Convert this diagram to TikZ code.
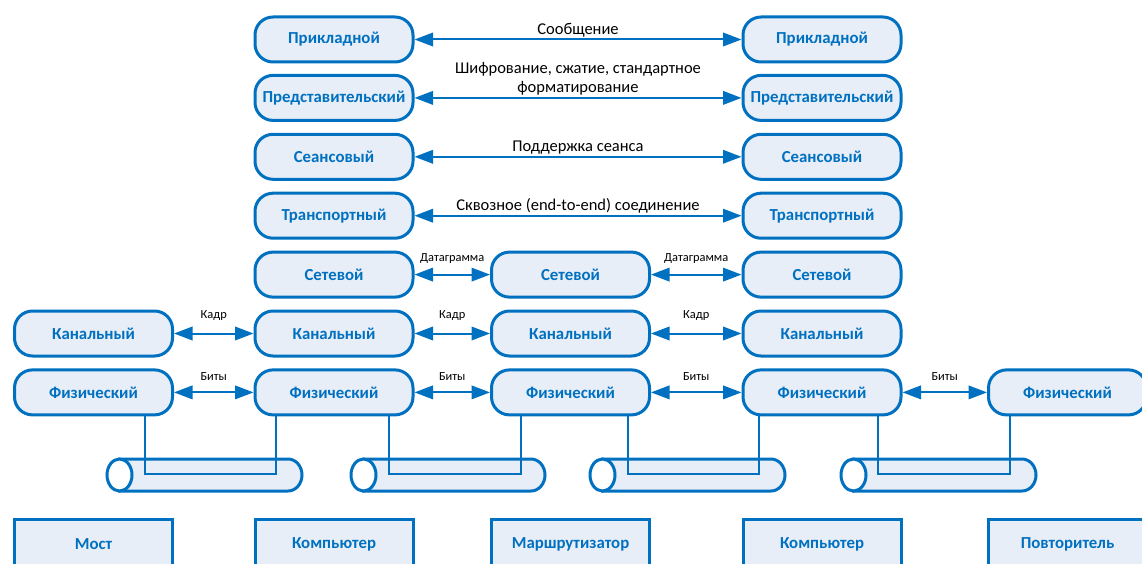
\documentclass[tikz,border=0pt]{standalone}
\usepackage{fontspec}
\setmainfont{Carlito}
\usetikzlibrary{arrows.meta}
\definecolor{osiblue}{RGB}{0,112,192}
\definecolor{osifill}{RGB}{232,238,247}
\begin{document}
\begin{tikzpicture}[x=1pt,y=-1pt,
  layer/.style={draw=osiblue, fill=osifill, line width=3pt, rounded corners=18pt,
    minimum width=158pt, minimum height=45pt, inner sep=0pt,
    font=\bfseries\fontsize{16.8}{20}\selectfont, text=osiblue},
  devbox/.style={draw=osiblue, fill=osifill, line width=3pt,
    minimum width=158pt, minimum height=50pt, inner sep=0pt,
    font=\bfseries\fontsize{16.8}{20}\selectfont, text=osiblue},
  biarrow/.style={draw=osiblue, line width=2pt,
    {Triangle[length=18.5pt,width=13.5pt]}-{Triangle[length=18.5pt,width=13.5pt]}},
  biglabel/.style={font=\fontsize{16.5}{19.5}\selectfont, text=black, align=center, inner sep=1.5pt},
  smalllabel/.style={font=\fontsize{12.4}{14}\selectfont, text=black, inner sep=4pt},
  wire/.style={draw=osiblue, line width=1.5pt},
  cylbody/.style={draw=osiblue, fill=osifill, line width=3pt},
  cylcap/.style={draw=osiblue, fill=white, line width=3pt}]
\path[use as bounding box, clip] (0,0) rectangle (1142,564);

% rows
\def\ra{39.5}\def\rb{97.9}\def\rc{156.8}\def\rd{215.7}\def\re{274.6}\def\rf{333.5}\def\rg{392.4}
% columns
\def\ca{93.5}\def\cb{334}\def\cc{570.5}\def\cd{822}\def\ce{1067.5}

% cylinders (drawn first, wires on top)
\foreach \xl/\xr in {107/302, 351/545, 590/785, 841/1036} {
  \draw[cylbody] (\xl+12.5,459) -- (\xr-14,459)
     arc[start angle=90, end angle=-90, x radius=14pt, y radius=16pt]
     -- (\xl+12.5,491) -- cycle;
  \draw[cylcap] (\xl+12.5,475) ellipse[x radius=12.5pt, y radius=16pt];
}

% layer nodes
\node[layer] (app1) at (\cb,\ra) {Прикладной};
\node[layer] (app3) at (\cd,\ra) {Прикладной};
\node[layer] (pres1) at (\cb,\rb) {Представительский};
\node[layer] (pres3) at (\cd,\rb) {Представительский};
\node[layer] (ses1) at (\cb,\rc) {Сеансовый};
\node[layer] (ses3) at (\cd,\rc) {Сеансовый};
\node[layer] (tr1) at (\cb,\rd) {Транспортный};
\node[layer] (tr3) at (\cd,\rd) {Транспортный};
\node[layer] (net1) at (\cb,\re) {Сетевой};
\node[layer] (net2) at (\cc,\re) {Сетевой};
\node[layer] (net3) at (\cd,\re) {Сетевой};
\node[layer] (dl0) at (\ca,\rf) {Канальный};
\node[layer] (dl1) at (\cb,\rf) {Канальный};
\node[layer] (dl2) at (\cc,\rf) {Канальный};
\node[layer] (dl3) at (\cd,\rf) {Канальный};
\node[layer] (ph0) at (\ca,\rg) {Физический};
\node[layer] (ph1) at (\cb,\rg) {Физический};
\node[layer] (ph2) at (\cc,\rg) {Физический};
\node[layer] (ph3) at (\cd,\rg) {Физический};
\node[layer] (ph4) at (\ce,\rg) {Физический};

% device boxes
\node[devbox] (dev0) at (\ca,544) {Мост};
\node[devbox] (dev1) at (\cb,544) {Компьютер};
\node[devbox] (dev2) at (\cc,544) {Маршрутизатор};
\node[devbox] (dev3) at (\cd,544) {Компьютер};
\node[devbox] (dev4) at (\ce,544) {Повторитель};

% end-to-end arrows
\draw[biarrow] (app1) -- node[biglabel, above] {Сообщение} (app3);
\draw[biarrow] (pres1) -- node[biglabel, above] {Шифрование, сжатие, стандартное\\форматирование} (pres3);
\draw[biarrow] (ses1) -- node[biglabel, above] {Поддержка сеанса} (ses3);
\draw[biarrow] (tr1) -- node[biglabel, above] {Сквозное (end-to-end) соединение} (tr3);

% hop arrows
\draw[biarrow] (net1) -- node[smalllabel, above=6pt] {Датаграмма} (net2);
\draw[biarrow] (net2) -- node[smalllabel, above=6pt] {Датаграмма} (net3);
\draw[biarrow] (dl0) -- node[smalllabel, above=7.5pt] {Кадр} (dl1);
\draw[biarrow] (dl1) -- node[smalllabel, above=7.5pt] {Кадр} (dl2);
\draw[biarrow] (dl2) -- node[smalllabel, above=7.5pt] {Кадр} (dl3);
\draw[biarrow] (ph0) -- node[smalllabel, above=7pt] {Биты} (ph1);
\draw[biarrow] (ph1) -- node[smalllabel, above=7pt] {Биты} (ph2);
\draw[biarrow] (ph2) -- node[smalllabel, above=7pt] {Биты} (ph3);
\draw[biarrow] (ph3) -- node[smalllabel, above=7pt] {Биты} (ph4);

% wires into the cables
\coordinate (w1) at (210,474);
\coordinate (w2) at (455,474);
\coordinate (w3) at (693,474);
\coordinate (w4) at (944,474);
\draw[wire] ([xshift=51.5pt]ph0.south) |- (w1) -| ([xshift=-58pt]ph1.south);
\draw[wire] ([xshift=55pt]ph1.south) |- (w2) -| ([xshift=-49.5pt]ph2.south);
\draw[wire] ([xshift=57.5pt]ph2.south) |- (w3) -| ([xshift=-63pt]ph3.south);
\draw[wire] ([xshift=56pt]ph3.south) |- (w4) -| ([xshift=-57.5pt]ph4.south);
\end{tikzpicture}
\end{document}
